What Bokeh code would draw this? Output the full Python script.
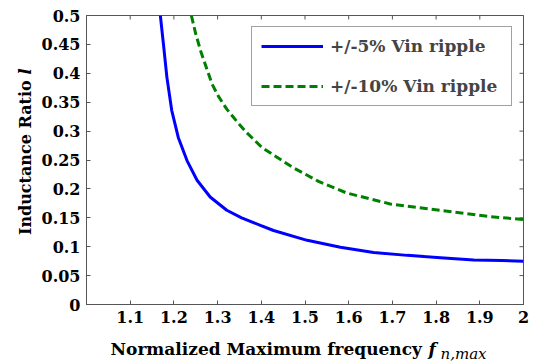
import math
from bokeh.plotting import figure
from bokeh.models import Range1d, LinearAxis, FixedTicker, Legend, LegendItem
from bokeh.layouts import column, row
from bokeh.core.properties import value
from bokeh.embed import file_html
from bokeh.resources import INLINE

# ---- data ----
blue_x = [1.169, 1.176, 1.184, 1.195, 1.210, 1.230, 1.253, 1.283, 1.321, 1.355, 1.398, 1.428,
          1.505, 1.581, 1.657, 1.734, 1.810, 1.886, 1.950, 2.000]
blue_y = [0.500, 0.451, 0.393, 0.336, 0.289, 0.249, 0.215, 0.186, 0.163, 0.150, 0.137, 0.128,
          0.111, 0.099, 0.090, 0.085, 0.081, 0.077, 0.076, 0.075]
green_x = [1.240, 1.250, 1.262, 1.287, 1.302, 1.321, 1.348, 1.367, 1.401, 1.470, 1.531, 1.595,
           1.695, 1.810, 1.924, 2.000]
green_y = [0.500, 0.468, 0.437, 0.382, 0.360, 0.338, 0.313, 0.297, 0.272, 0.238, 0.213, 0.193,
           0.174, 0.163, 0.152, 0.147]
series_names = ["+/-5% Vin ripple", "+/-10% Vin ripple"]

x_ticks = [1.1, 1.2, 1.3, 1.4, 1.5, 1.6, 1.7, 1.8, 1.9, 2.0]
x_tick_labels = ["1.1", "1.2", "1.3", "1.4", "1.5", "1.6", "1.7", "1.8", "1.9", "2"]
y_ticks = [0, 0.05, 0.1, 0.15, 0.2, 0.25, 0.3, 0.35, 0.4, 0.45, 0.5]
y_tick_labels = ["0", "0.05", "0.1", "0.15", "0.2", "0.25", "0.3", "0.35", "0.4", "0.45", "0.5"]

x_title = "Normalized Maximum frequency"
x_title_sym = "f"
x_title_sub = "n,max"
y_title = "Inductance Ratio"
y_title_sym = "l"

X_MIN, X_MAX, Y_MIN, Y_MAX = 1.0, 2.0, 0.0, 0.5

FONT = "DejaVu Serif"
AXIS_COLOR = "#555555"

W, H = 533, 363
YLAB_W = 36
XLAB_H = 30
FRAME_W = 437
FRAME_H = 289

p = figure(width=W - YLAB_W, height=H - XLAB_H, output_backend="svg", toolbar_location=None,
           x_range=Range1d(X_MIN, X_MAX), y_range=Range1d(Y_MIN, Y_MAX),
           x_axis_location=None, y_axis_location=None,
           min_border_left=86 - YLAB_W, min_border_right=10, min_border_top=15,
           min_border_bottom=H - XLAB_H - 15 - FRAME_H)
p.background_fill_color = "white"
p.border_fill_color = "white"
p.grid.visible = False
p.outline_line_color = AXIS_COLOR


def make_axis(ticks, labels):
    ax = LinearAxis(ticker=FixedTicker(ticks=ticks),
                    major_label_overrides={t: l for t, l in zip(ticks, labels)})
    ax.axis_line_color = AXIS_COLOR
    ax.major_tick_line_color = AXIS_COLOR
    ax.major_tick_in = 4
    ax.major_tick_out = 0
    ax.minor_tick_line_color = None
    ax.major_label_text_font = FONT
    ax.major_label_text_font_style = "bold"
    ax.major_label_text_font_size = "16px"
    ax.major_label_text_color = "black"
    ax.major_label_standoff = 6
    return ax


p.add_layout(make_axis(x_ticks, x_tick_labels), "below")
p.add_layout(make_axis(y_ticks, y_tick_labels), "left")

# inward tick marks on the top and right edges of the box (MATLAB style)
tick_len_y = 4 * (Y_MAX - Y_MIN) / FRAME_H
tick_len_x = 4 * (X_MAX - X_MIN) / FRAME_W
p.segment(x0=x_ticks, y0=[Y_MAX] * len(x_ticks), x1=x_ticks, y1=[Y_MAX - tick_len_y] * len(x_ticks),
          line_color=AXIS_COLOR, line_width=1)
p.segment(x0=[X_MAX] * len(y_ticks), y0=y_ticks, x1=[X_MAX - tick_len_x] * len(y_ticks), y1=y_ticks,
          line_color=AXIS_COLOR, line_width=1)

r1 = p.line(blue_x, blue_y, line_color="#0000ff", line_width=3)
r2 = p.line(green_x, green_y, line_color="#008000", line_width=3, line_dash="8 4")

legend = Legend(items=[LegendItem(label=series_names[0], renderers=[r1]),
                       LegendItem(label=series_names[1], renderers=[r2])],
                location="top_right")
legend.margin = 11
legend.padding = 9
legend.spacing = 20
legend.glyph_width = 62
legend.glyph_height = 16
legend.label_height = 16
legend.label_width = 172
legend.label_standoff = 7
legend.label_text_font = FONT
legend.label_text_font_style = "bold"
legend.label_text_font_size = "17px"
legend.border_line_color = "#444444"
legend.border_line_width = 1
legend.background_fill_color = "white"
legend.background_fill_alpha = 1.0
p.add_layout(legend, "center")


def text_panel(width, height):
    f = figure(width=width, height=height, output_backend="svg", toolbar_location=None,
               x_range=Range1d(0, width), y_range=Range1d(0, height),
               x_axis_location=None, y_axis_location=None,
               min_border=0, min_border_left=0, min_border_right=0,
               min_border_top=0, min_border_bottom=0)
    f.grid.visible = False
    f.outline_line_color = None
    f.background_fill_color = "white"
    f.border_fill_color = "white"
    return f


# y-axis title panel (left of the plot)
ylab = text_panel(YLAB_W, H - XLAB_H)
ylab.text(x=[25], y=[80], text=[y_title], angle=math.pi / 2,
          text_font=value(FONT), text_font_style=value("bold"), text_font_size=value("16px"),
          text_align=value("left"), text_baseline=value("middle"), text_color="black")
ylab.text(x=[25], y=[265], text=[y_title_sym], angle=math.pi / 2,
          text_font=value(FONT), text_font_style=value("bold italic"), text_font_size=value("16px"),
          text_align=value("left"), text_baseline=value("middle"), text_color="black")

# x-axis title panel (below the plot)
xlab = text_panel(W, XLAB_H)
xlab.text(x=[110], y=[15], text=[x_title],
          text_font=value(FONT), text_font_style=value("bold"), text_font_size=value("17px"),
          text_align=value("left"), text_baseline=value("middle"), text_color="black")
xlab.text(x=[428], y=[15], text=[x_title_sym],
          text_font=value(FONT), text_font_style=value("bold italic"), text_font_size=value("17px"),
          text_align=value("left"), text_baseline=value("middle"), text_color="black")
xlab.text(x=[440], y=[10], text=[x_title_sub],
          text_font=value(FONT), text_font_style=value("italic"), text_font_size=value("15px"),
          text_align=value("left"), text_baseline=value("middle"), text_color="black")

layout = column(row(ylab, p, spacing=0), xlab, spacing=0)

open("out.html", "w").write(file_html(layout, INLINE))
